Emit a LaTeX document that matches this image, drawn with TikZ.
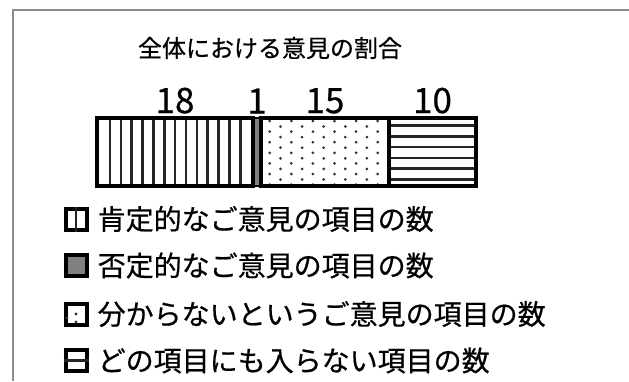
\documentclass[tikz,border=0pt]{standalone}
\usepackage{fontspec}
\setmainfont{Noto Sans CJK JP}[FakeBold=0.6]
\usetikzlibrary{positioning}

\begin{document}
\begin{tikzpicture}[x=1pt,y=-1pt,
  frame/.style={draw=black!45,line width=2pt},
  seg/.style={draw=black,line width=3.6pt,minimum height=68pt,outer sep=0pt,inner sep=0pt,anchor=west},
  stripe/.style={draw=black!85,line width=2.6pt},
  count/.style={font=\fontsize{35}{35}\selectfont,inner sep=0pt},
  key box/.style={draw=black,line width=4pt,minimum size=21pt,inner sep=0pt},
  key text/.style={font=\fontsize{28}{28}\selectfont,anchor=west,inner sep=0pt}]
  \useasboundingbox (0,0) rectangle (629,381);

  \draw[frame] (12.5,381) -- (12.5,9.5) -- (629,9.5);
  \node[font=\fontsize{24}{24}\selectfont] (title) at (270,48) {全体における意見の割合};

  % patterns of the bar
  \foreach \x in {0,...,12}
    \draw[stripe] ({110+10.85*\x},117.5) -- ({110+10.85*\x},186);
  \fill[black!50] (253,117.5) rectangle (261,186);
  \foreach \i in {0,...,5}
    \foreach \j in {0,...,6}
      \fill[black!80] ({269.7+21.6*\i},{121+10.6*\j}) circle (1.5);
  \foreach \i in {0,...,4}
    \foreach \j in {0,...,5}
      \fill[black!80] ({280.5+21.6*\i},{126.5+10.6*\j}) circle (1.5);
  \foreach \j in {0,...,5}
    \draw[stripe] (389,{125.7+10.7*\j}) -- (476,{125.7+10.7*\j});

  % the bar
  \node[seg,minimum width=156pt] (pos) at (97,151.75) {};
  \node[seg,minimum width=8pt,right=0pt of pos,line width=2pt] (neg) {};
  \node[seg,minimum width=128pt,right=0pt of neg] (unk) {};
  \node[seg,minimum width=87pt,right=0pt of unk] (none) {};

  \node[count] (n1) [above=4pt of pos] {18};
  \node[count] (n2) [above=4pt of neg] {1};
  \node[count] (n3) [above=4pt of unk] {15};
  \node[count] (n4) [above=4pt of none] {10};

  % legend
  \node[key box] (k1) at (76,219) {};
  \node[key box,fill=black!50] (k2) at (76,265.5) {};
  \node[key box] (k3) at (76,314) {};
  \node[key box] (k4) at (76,360.5) {};
  \draw[stripe] (k1.north) -- (k1.south);
  \fill[black!80] (k3.center) circle (1.6);
  \fill[black!80] ([shift={(0,8)}]k3.center) circle (1.6);
  \fill[black!80] ([shift={(-9,4)}]k3.center) circle (1.6);
  \draw[stripe] (k4.west) -- (k4.east);

  \node[key text] (t1) [right=9pt of k1] {肯定的なご意見の項目の数};
  \node[key text] (t2) [right=9pt of k2] {否定的なご意見の項目の数};
  \node[key text] (t3) [right=9pt of k3] {分からないというご意見の項目の数};
  \node[key text] (t4) [right=9pt of k4] {どの項目にも入らない項目の数};
\end{tikzpicture}
\end{document}
